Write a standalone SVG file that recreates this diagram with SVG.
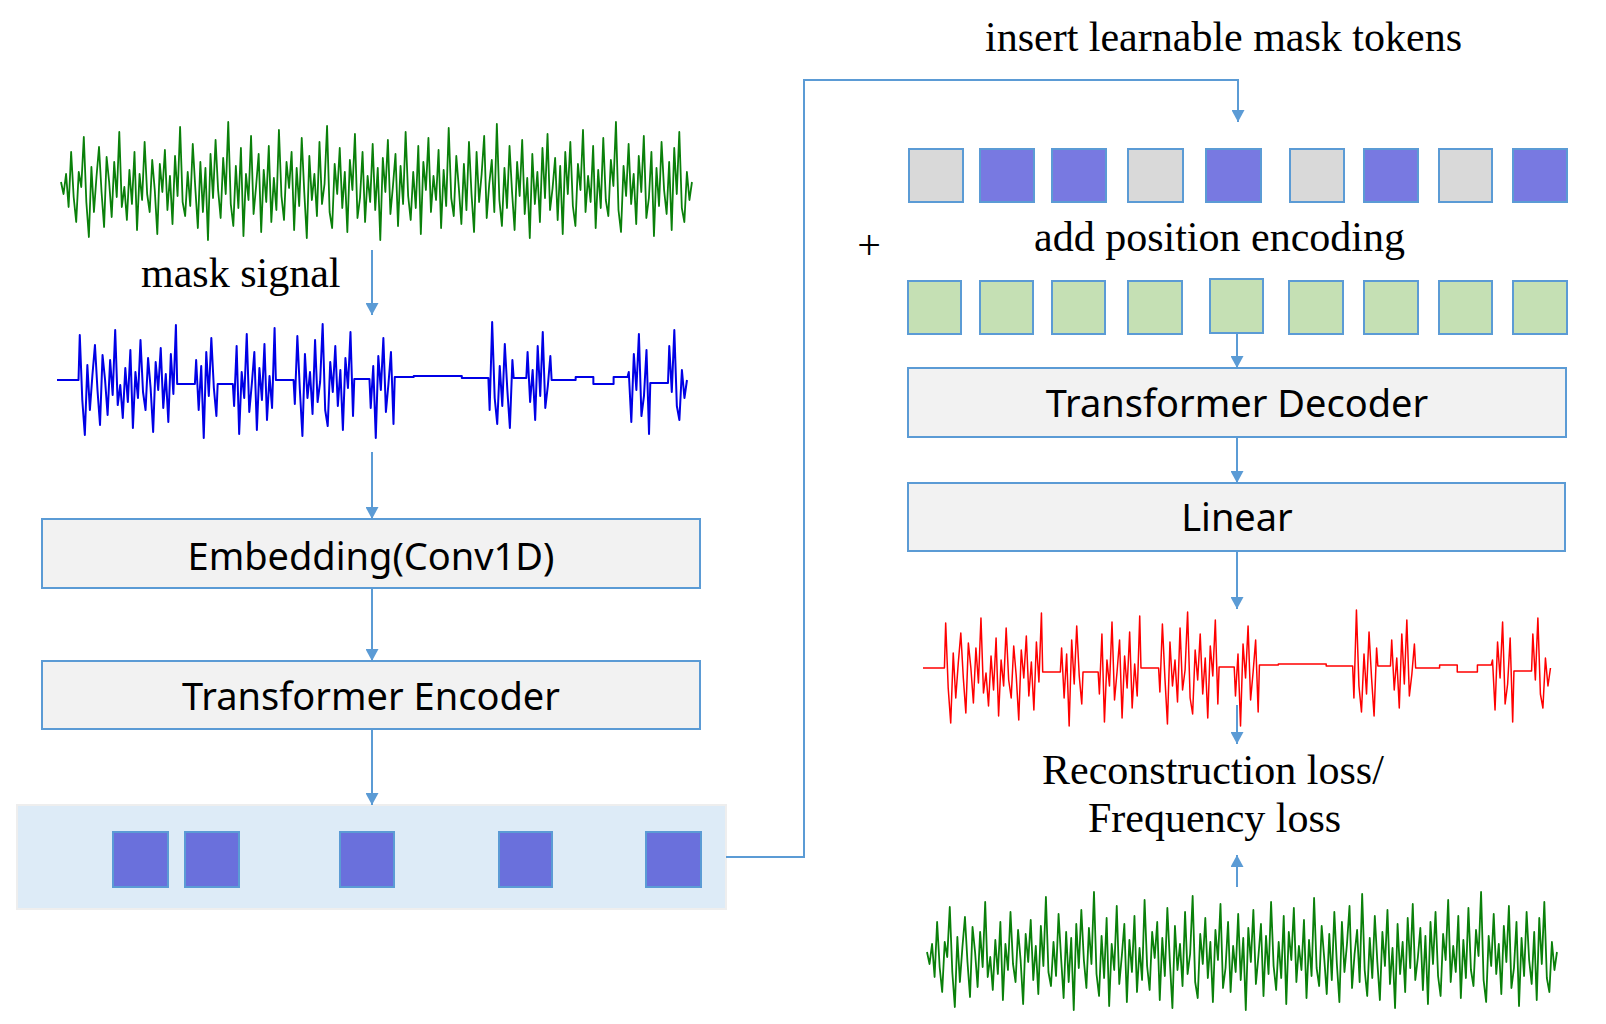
<svg xmlns="http://www.w3.org/2000/svg" xmlns:xlink="http://www.w3.org/1999/xlink" width="1606" height="1024" viewBox="0 0 1606 1024">
<style>
.box{fill:#F2F2F2;stroke:#5B9BD5;stroke-width:2}
.lbl{font-family:"Noto Sans","Open Sans",sans-serif;font-size:38px;fill:#000;text-anchor:middle}
.serif{font-family:"Liberation Serif","Times New Roman",serif;font-size:42px;fill:#000}
.conn{stroke:#5B9BD5;stroke-width:2;fill:none}
.tk{stroke:#5B9BD5;stroke-width:2}
.gray{fill:#D9D9D9}
.mb{fill:#7879E1}
.eb{fill:#6A70DC}
.gr{fill:#C5E0B4}
.sig{fill:none;stroke-linejoin:round}
</style>
<defs>
<marker id="ah" viewBox="0 0 12 13" refX="12" refY="6.5" markerWidth="12" markerHeight="13" markerUnits="userSpaceOnUse" orient="auto">
<path d="M0,0 L12,6.5 L0,13 z" fill="#5B9BD5"/>
</marker>
<path id="sigFull" class="sig" vector-effect="non-scaling-stroke" d="M0,0 1,12 2,-8 3,25 4,-30 5,15 6,40 7,-10 8,5 9,-45 10,20 11,55 12,-15 13,30 14,-5 15,-35 16,10 17,45 18,-25 19,0 20,35 21,-20 22,15 23,-50 24,25 25,5 26,38 27,-12 28,22 29,-30 30,48 31,-8 32,18 33,-40 34,12 35,30 36,-22 37,8 38,52 39,-18 40,10 41,-32 42,28 43,-6 44,42 45,-26 46,14 47,-55 48,20 49,34 50,-10 51,24 52,-38 53,6 54,46 55,-20 56,30 57,-14 58,58 59,-28 60,16 61,-42 62,8 63,36 64,-24 65,12 66,-60 67,22 68,44 69,-16 70,26 71,-34 72,54 73,-8 74,18 75,-46 76,32 77,4 78,-28 79,50 80,-12 81,20 82,-36 83,40 84,-4 85,28 86,-52 87,14 88,38 89,-20 90,6 91,-30 92,48 93,-14 94,24 95,-44 96,10 97,56 98,-26 99,18 100,-8 101,34 102,-40 103,22 104,2 105,-56 106,30 107,46 108,-18 109,12 110,-34 111,26 112,-10 113,50 114,-22 115,8 116,-48 117,36 118,16 119,-30 120,40 121,-6 122,20 123,-38 124,28 125,-14 126,58 127,-24 128,10 129,-42 130,32 131,4 132,-28 133,44 134,-16 135,22 136,-50 137,14 138,38 139,-10 140,26 141,-36 142,52 143,-20 144,8 145,-44 146,30 147,-6 148,18 149,-32 150,46 151,-12 152,24 153,-54 154,16 155,34 156,-26 157,6 158,42 159,-18 160,28 161,-40 162,12 163,50 164,-30 165,20 166,-8 167,-46 168,36 169,2 170,-22 171,30 172,-58 173,18 174,44 175,-14 176,26 177,-36 178,10 179,48 180,-20 181,14 182,-42 183,32 184,-4 185,56 186,-28 187,22 188,-10 189,40 190,-34 191,16 192,-48 193,28 194,6 195,-24 196,38 197,-16 198,52 199,-30 200,12 201,-40 202,24 203,44 204,-18 205,8 206,-52 207,30 208,-6 209,20 210,-36 211,46 212,-12 213,26 214,-44 215,18 216,34 217,-22 218,4 219,-60 220,28 221,50 222,-16 223,14 224,-38 225,22 226,-8 227,42 228,-26 229,10 230,-46 231,36 232,16 233,-30 234,54 235,-14 236,24 237,-40 238,8 239,32 240,-20 241,48 242,-34 243,12 244,-50 245,26 246,40 247,-10 248,18 249,0"/>
<path id="sigMask" class="sig" vector-effect="non-scaling-stroke" d="M0,0 8.5,0 9,-45 10,20 11,55 12,-15 13,30 14,-5 15,-35 16,10 17,45 18,-25 19,0 20,35 21,-20 22,15 23,-50 24,25 25,5 26,38 27,-12 28,22 29,-30 30,48 31,-8 32,18 33,-40 34,12 35,30 36,-22 37,8 38,52 39,-18 40,10 41,-32 42,28 43,-6 44,42 45,-26 46,14 47,-55 47.5,4 54.5,4 55,-20 56,30 57,-14 58,58 59,-28 60,16 61,-42 62,8 63,36 63.5,4 69.5,4 70,26 71,-34 72,54 73,-8 74,18 75,-46 76,32 77,4 78,-28 79,50 80,-12 81,20 82,-36 83,40 84,-4 85,28 86,-52 86.5,0 93.5,0 94,24 95,-44 96,10 97,56 98,-26 99,18 100,-8 101,34 102,-40 103,22 104,2 105,-56 106,30 107,46 108,-18 109,12 110,-34 111,26 112,-10 113,50 114,-22 115,8 116,-48 117,36 117.5,-1 123.5,-1 124,28 125,-14 126,58 127,-24 128,10 129,-42 130,32 131,4 132,-28 133,44 133.5,-3 141,-3 141,-4 160,-4 160,-2 170.5,-2 171,30 172,-58 173,18 174,44 175,-14 176,26 177,-36 178,10 179,48 180,-20 180.5,-2 185.5,-2 186,-28 187,22 188,-10 189,40 190,-34 191,16 192,-48 193,28 194,6 195,-24 195.5,0 205,0 205,-3 212,-3 212,4 220,4 220,-3 225.5,-3 226,-8 227,42 228,-26 229,10 230,-46 231,36 232,16 233,-30 234,54 234.5,3 241.5,3 242,-34 243,12 244,-50 245,26 246,40 247,-10 248,18 249,0"/>
</defs>
<rect width="1606" height="1024" fill="#FFFFFF"/>

<g id="signal-original">
<use xlink:href="#sigFull" href="#sigFull" transform="translate(61,182) scale(2.534,1)" stroke="#0A800A" stroke-width="1.8"/>
</g>
<g id="label-mask-signal">
<text class="serif" x="141" y="287">mask signal</text>
</g>
<g id="signal-masked">
<use xlink:href="#sigMask" href="#sigMask" transform="translate(57,380) scale(2.53,1)" stroke="#0000E6" stroke-width="2"/>
</g>
<g id="embedding">
<rect class="box" x="42" y="519" width="658" height="69"/>
<text class="lbl" x="371" y="570">Embedding(Conv1D)</text>
</g>
<g id="encoder">
<rect class="box" x="42" y="661" width="658" height="68"/>
<text class="lbl" x="371" y="710">Transformer Encoder</text>
</g>
<g id="visible-tokens">
<rect x="17" y="805" width="709" height="104" fill="#DDEBF7" stroke="#EEEEEE" stroke-width="2"/>
<rect class="tk eb" x="113" y="832" width="55" height="55"/>
<rect class="tk eb" x="185" y="832" width="54" height="55"/>
<rect class="tk eb" x="340" y="832" width="54" height="55"/>
<rect class="tk eb" x="499" y="832" width="53" height="55"/>
<rect class="tk eb" x="646" y="832" width="55" height="55"/>
</g>

<g id="label-insert">
<text class="serif" x="985" y="51">insert learnable mask tokens</text>
</g>
<g id="full-tokens">
<rect class="tk gray" x="909" y="149" width="54" height="53"/>
<rect class="tk mb" x="980" y="149" width="54" height="53"/>
<rect class="tk mb" x="1052" y="149" width="54" height="53"/>
<rect class="tk gray" x="1128" y="149" width="55" height="53"/>
<rect class="tk mb" x="1206" y="149" width="55" height="53"/>
<rect class="tk gray" x="1290" y="149" width="54" height="53"/>
<rect class="tk mb" x="1364" y="149" width="54" height="53"/>
<rect class="tk gray" x="1439" y="149" width="53" height="53"/>
<rect class="tk mb" x="1513" y="149" width="54" height="53"/>
</g>
<g id="label-position">
<text class="serif" x="869" y="259" text-anchor="middle">+</text>
<text class="serif" x="1034" y="251">add position encoding</text>
</g>
<g id="position-tokens">
<rect class="tk gr" x="908" y="281" width="53" height="53"/>
<rect class="tk gr" x="980" y="281" width="53" height="53"/>
<rect class="tk gr" x="1052" y="281" width="53" height="53"/>
<rect class="tk gr" x="1128" y="281" width="54" height="53"/>
<rect class="tk gr" x="1210" y="279" width="53" height="54"/>
<rect class="tk gr" x="1289" y="281" width="54" height="53"/>
<rect class="tk gr" x="1364" y="281" width="54" height="53"/>
<rect class="tk gr" x="1439" y="281" width="53" height="53"/>
<rect class="tk gr" x="1513" y="281" width="54" height="53"/>
</g>
<g id="decoder">
<rect class="box" x="908" y="368" width="658" height="69"/>
<text class="lbl" x="1237" y="417">Transformer Decoder</text>
</g>
<g id="linear">
<rect class="box" x="908" y="483" width="657" height="68"/>
<text class="lbl" x="1237" y="531">Linear</text>
</g>
<g id="signal-reconstructed">
<use xlink:href="#sigMask" href="#sigMask" transform="translate(923,668) scale(2.52,1)" stroke="#FF0000" stroke-width="1.5"/>
</g>
<g id="label-loss">
<text class="serif" x="1042" y="784">Reconstruction loss/</text>
<text class="serif" x="1088" y="832">Frequency loss</text>
</g>
<g id="signal-target">
<use xlink:href="#sigFull" href="#sigFull" transform="translate(927,952) scale(2.53,1)" stroke="#0A800A" stroke-width="1.8"/>
</g>

<g id="connectors">
<line class="conn" x1="372" y1="250" x2="372" y2="315" marker-end="url(#ah)"/>
<line class="conn" x1="372" y1="452" x2="372" y2="519" marker-end="url(#ah)"/>
<line class="conn" x1="372" y1="588" x2="372" y2="661" marker-end="url(#ah)"/>
<line class="conn" x1="372" y1="729" x2="372" y2="805" marker-end="url(#ah)"/>
<polyline class="conn" points="726,857 804,857 804,80 1238,80 1238,122" marker-end="url(#ah)"/>
<line class="conn" x1="1237" y1="333" x2="1237" y2="368" marker-end="url(#ah)"/>
<line class="conn" x1="1237" y1="437" x2="1237" y2="483" marker-end="url(#ah)"/>
<line class="conn" x1="1237" y1="551" x2="1237" y2="609" marker-end="url(#ah)"/>
<line class="conn" x1="1237" y1="705" x2="1237" y2="744" marker-end="url(#ah)"/>
<line class="conn" x1="1237" y1="887" x2="1237" y2="855" marker-end="url(#ah)"/>
</g>
</svg>
